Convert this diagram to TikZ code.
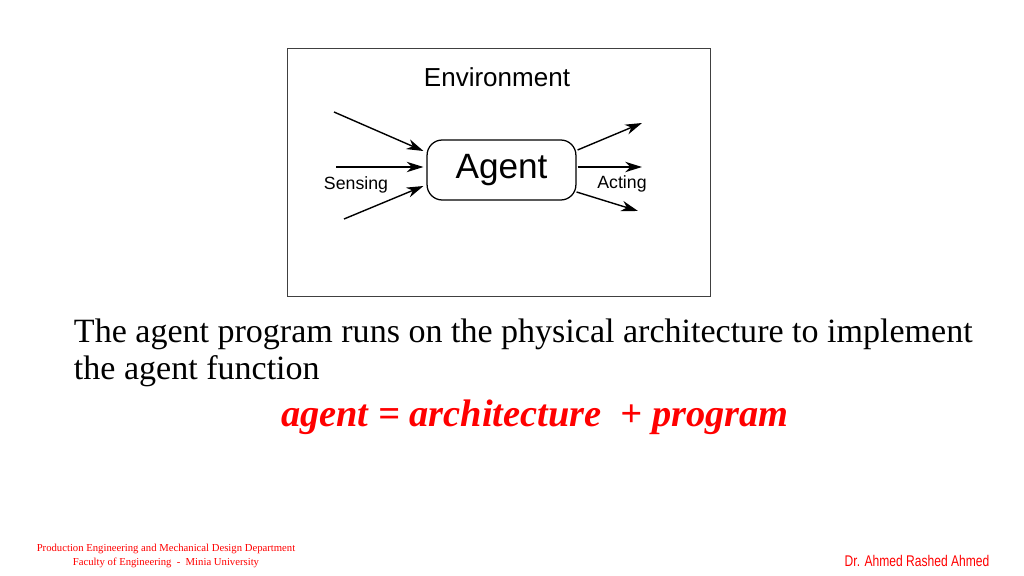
\documentclass[tikz,border=0pt]{standalone}
\usepackage{fontspec}
\setmainfont{Liberation Serif}
\setsansfont{Liberation Sans}
\usepackage{tikz}
\usetikzlibrary{arrows.meta,positioning,shapes,calc}

\begin{document}
\begin{tikzpicture}[
    x=0.025cm, y=-0.025cm,
    agentbox/.style={rectangle, rounded corners=0.38cm, draw, line width=0.9pt, minimum width=3.72cm, minimum height=1.5cm, font=\sffamily\fontsize{25}{25}\selectfont},
    arrow/.style={-{Stealth[length=0.42cm, width=0.26cm, inset=0.13cm]}, line width=1pt},
    lbl/.style={font=\sffamily\fontsize{12.6}{12.6}\selectfont},
    redtext/.style={text=red}
]
    % Page
    \useasboundingbox (0,0) rectangle (1024,576);

    % Environment frame
    \node[draw=black!75, line width=0.7pt, minimum width=10.55cm, minimum height=6.18cm, inner sep=0pt] (env) at (499,172.5) {};
    \node[font=\sffamily\fontsize{18.5}{18.5}\selectfont] (envlbl) at (497,77) {Environment};

    % Agent
    \node[agentbox] (agent) at (501.5,170) {Agent};

    % Sensing arrows
    \coordinate (s1) at (334,112);
    \coordinate (s2) at (336,167);
    \coordinate (s3) at (344,219);
    \draw[arrow] (s1) -- ($(agent.west)+(-3,-19)$);
    \draw[arrow] (s2) -- ($(agent.west)+(-3,-3)$);
    \draw[arrow] (s3) -- ($(agent.west)+(-3,16)$);

    % Acting arrows
    \coordinate (a1) at (642,123);
    \coordinate (a2) at (642,167);
    \coordinate (a3) at (638,211);
    \draw[arrow] ($(agent.east)+(1,-20)$) -- (a1);
    \draw[arrow] ($(agent.east)+(1,-3)$) -- (a2);
    \draw[arrow] ($(agent.east)+(0,22)$) -- (a3);

    % Labels
    \node[lbl] (sensing) at (356,185) {Sensing};
    \node[lbl] (acting) at (622,184) {Acting};

    % Text
    \node[anchor=west, align=left, font=\fontsize{24.2}{26.8}\selectfont] (desc) at (69,353) {The agent program runs on the physical architecture to implement\\the agent function};
    \node[redtext, font=\bfseries\itshape\fontsize{27.3}{27.3}\selectfont] (eq) at (535,417) {agent = architecture~ + program};

    % Footer
    \node[redtext, align=center, font=\fontsize{7.6}{10}\selectfont] (dept) at (166,556) {Production Engineering and Mechanical Design Department\\Faculty of Engineering~ -~ Minia University};
    \node[redtext, font=\sffamily\fontsize{11}{11}\selectfont, xscale=0.78] (author) at (917,561) {Dr. Ahmed Rashed Ahmed};
\end{tikzpicture}
\end{document}
